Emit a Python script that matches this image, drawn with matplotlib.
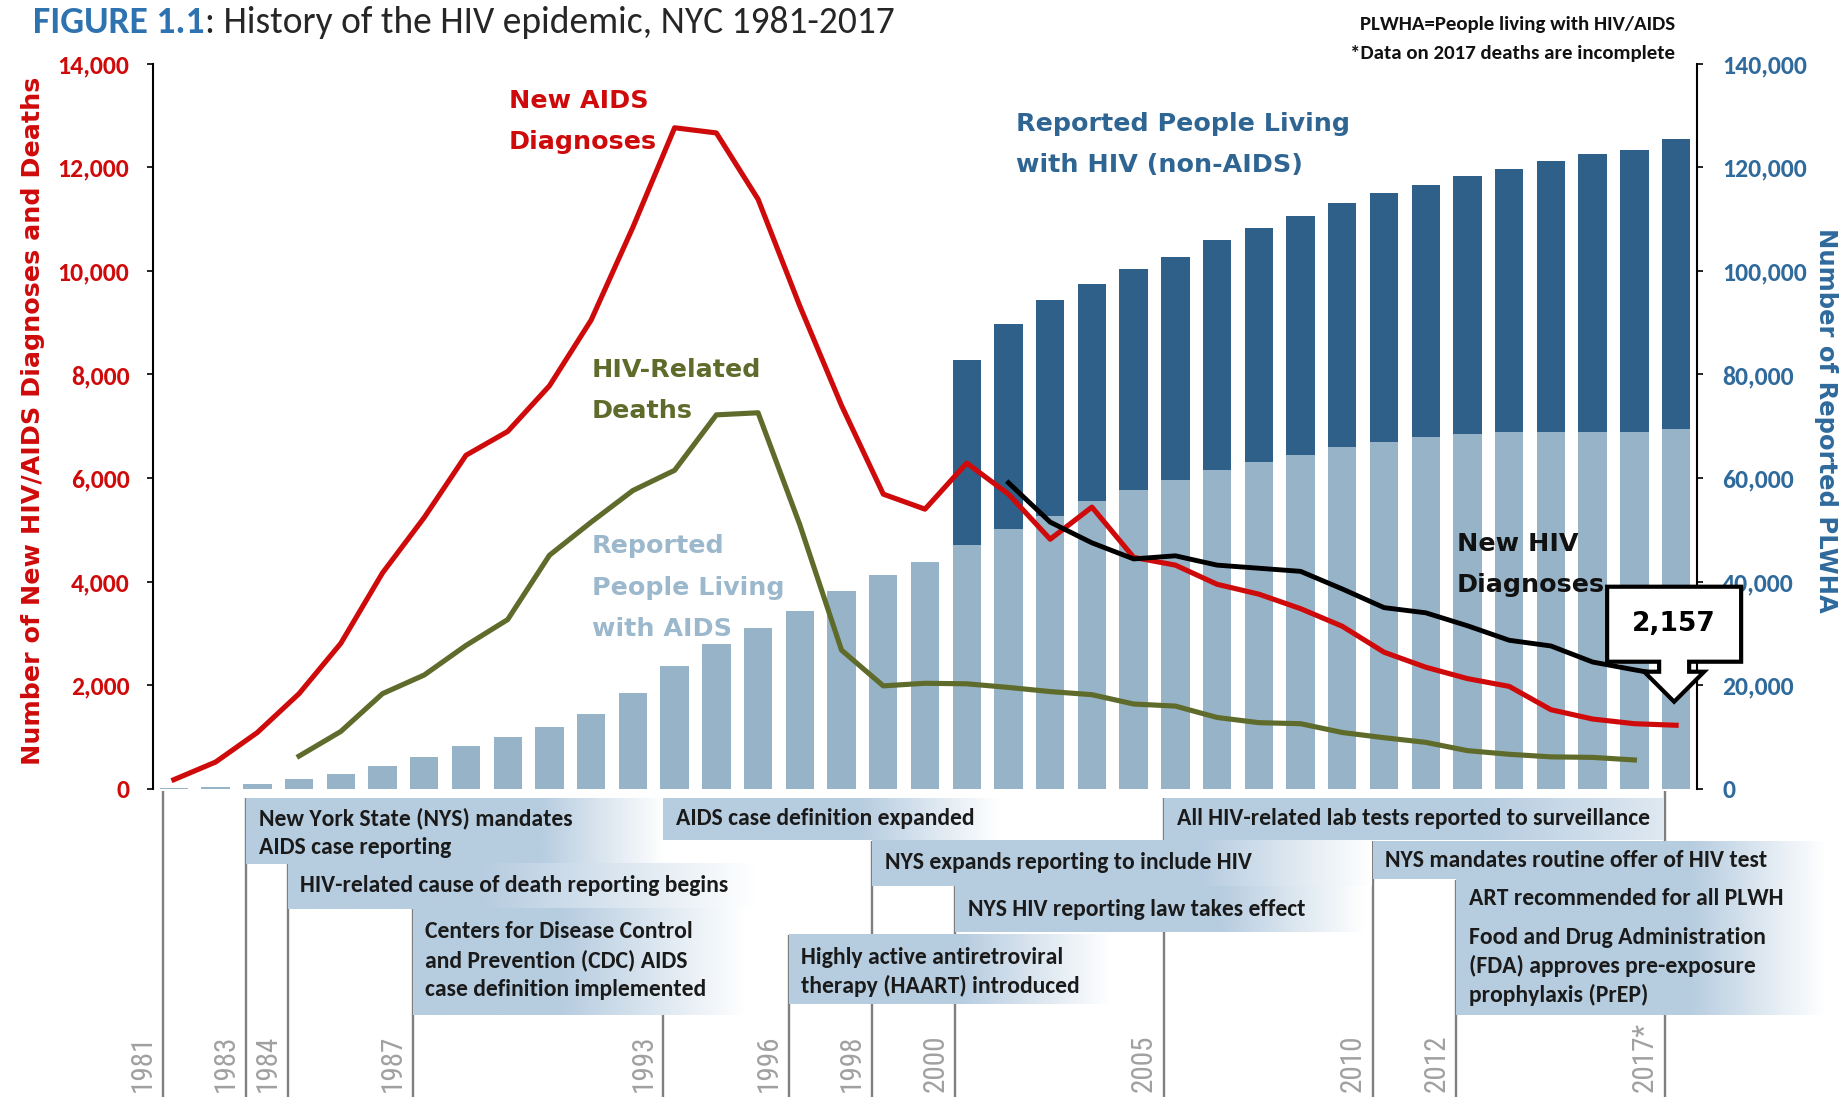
import numpy as np
import matplotlib
matplotlib.use("Agg")
import matplotlib.pyplot as plt
from matplotlib import font_manager, transforms as mtransforms
from matplotlib.patches import Polygon
from matplotlib.ticker import FuncFormatter, MultipleLocator

# ---------------- data ----------------
years = list(range(1981, 2018))
aids_dx = [180, 520, 1090, 1840, 2810, 4170, 5240, 6440, 6900, 7780, 9050, 10840, 12760,
           12660, 11380, 9320, 7400, 5690, 5400, 6290, 5690, 4820, 5440, 4470, 4320, 3950,
           3760, 3480, 3140, 2640, 2350, 2130, 1980, 1530, 1350, 1260, 1230]
death_years = list(range(1984, 2017))
deaths = [635, 1110, 1840, 2200, 2770, 3270, 4510, 5150, 5760, 6150, 7220, 7260, 5100, 2680,
          1990, 2040, 2030, 1960, 1880, 1820, 1640, 1600, 1380, 1280, 1260, 1090, 990, 900,
          740, 670, 620, 610, 560]
hiv_years = list(range(2001, 2018))
hiv_dx = [5910, 5150, 4750, 4440, 4500, 4320, 4260, 4200, 3860, 3500, 3400, 3150, 2870,
          2760, 2450, 2300, 2157]
plwa = [150, 480, 950, 1870, 2800, 4370, 6220, 8330, 10000, 12030, 14520, 18480, 23700,
        27900, 31100, 34300, 38200, 41300, 43900, 47100, 50100, 52600, 55600, 57700, 59700,
        61600, 63100, 64400, 66000, 67000, 67900, 68600, 68900, 68900, 68900, 68900, 69500]
plwh_years = list(range(2000, 2018))
plwh_nonaids = [35700, 39700, 41800, 41800, 42600, 43000, 44300, 45100, 46200, 47000, 48000,
                48600, 49700, 50800, 52200, 53600, 54500, 55900]

event_years = [1983, 1984, 1987, 1993, 1996, 1998, 2000, 2005, 2010, 2012, 2012]
event_texts = [
    "New York State (NYS) mandates\nAIDS case reporting",
    "HIV-related cause of death reporting begins",
    "Centers for Disease Control\nand Prevention (CDC) AIDS\ncase definition implemented",
    "AIDS case definition expanded",
    "Highly active antiretroviral\ntherapy (HAART) introduced",
    "NYS expands reporting to include HIV",
    "NYS HIV reporting law takes effect",
    "All HIV-related lab tests reported to surveillance",
    "NYS mandates routine offer of HIV test",
    "ART recommended for all PLWH",
    "Food and Drug Administration\n(FDA) approves pre-exposure\nprophylaxis (PrEP)",
]
axis_years = [1981, 1983, 1984, 1987, 1993, 1996, 1998, 2000, 2005, 2010, 2012, 2017]
axis_year_labels = ["1981", "1983", "1984", "1987", "1993", "1996", "1998", "2000", "2005",
                    "2010", "2012", "2017*"]

# ---------------- layout (pixels of the 1844x1097 canvas) ----------------
FW, FH = 1844, 1097
AX_L, AX_R, AX_T, AX_B = 153, 1697, 63.5, 789
XMIN, XMAX = 1980.5, 2017.5
PX_PER_YR = (AX_R - AX_L) / (XMAX - XMIN)


def px2yr(px):
    return XMIN + (px - AX_L) / PX_PER_YR


def fx(px):
    return px / FW


def fy(py):
    return 1 - py / FH


# timeline boxes: (top, bottom) in px below the chart, right edge px, fade start px, fade amount
box_rows = [(9, 75), (75, 120), (120, 226), (9, 51), (146, 215), (52, 97), (97, 143),
            (9, 51), (52, 90), (91, 126), (127, 226)]
text_first = [28, 95, 141, 28, 167, 72, 119, 28, 70, 108, 147]
LINE_GAP = 29
box_right = [665, 755, 745, 1000, 1110, 1372, 1365, 1664, 1825, 1825, 1825]
box_fade = [540, 480, 560, 860, 960, 1200, 1220, 1480, 1690, 1690, 1690]
box_mix = [1, 1, 1, 1, 1, 1, 1, 0.55, 1, 1, 1]
LINE_OFF = -0.27

# ---------------- fonts ----------------
avail = {f.name for f in font_manager.fontManager.ttflist}


def pick(*names):
    for n in names:
        if n in avail:
            return n
    return "DejaVu Sans"


CAL = pick("Carlito", "Lato", "Open Sans")
NARROW = pick("Liberation Sans Narrow", "Roboto Condensed", "Lato")
VER = "DejaVu Sans"

# ---------------- colors ----------------
RED = "#cf0a0a"
OLIVE = "#5e6b2b"
LIGHT = "#97b3c8"
DARK = "#2e6089"
BLUE_TXT = "#2f6a9c"
BOX = np.array([0.714, 0.800, 0.878])

fig = plt.figure(figsize=(FW / 100, FH / 100), dpi=100)

ax = fig.add_axes([fx(AX_L), fy(AX_B), (AX_R - AX_L) / FW, (AX_B - AX_T) / FH])
ax2 = ax.twinx()

# bars (right axis)
ax2.bar(years, plwa, width=0.68, color=LIGHT, zorder=2)
base = [plwa[years.index(y)] for y in plwh_years]
ax2.bar(plwh_years, plwh_nonaids, bottom=base, width=0.68, color=DARK, zorder=2)

# lines (left axis)
ax.plot(years, aids_dx, color=RED, lw=3.7, zorder=3)
ax.plot(death_years, deaths, color=OLIVE, lw=3.7, zorder=3)
ax.plot(hiv_years, hiv_dx, color="black", lw=3.5, zorder=3)

ax.set_zorder(ax2.get_zorder() + 1)
ax.patch.set_visible(False)

for a in (ax, ax2):
    a.set_xlim(XMIN, XMAX)
    a.set_xticks([])
    for s in ("top", "bottom"):
        a.spines[s].set_visible(False)
ax.spines["right"].set_visible(False)
ax2.spines["left"].set_visible(False)
ax.spines["left"].set_linewidth(1.5)
ax2.spines["right"].set_linewidth(1.5)

ax.set_ylim(0, 14000)
ax2.set_ylim(0, 140000)
ax.yaxis.set_major_locator(MultipleLocator(2000))
ax2.yaxis.set_major_locator(MultipleLocator(20000))
fmt = FuncFormatter(lambda v, p: f"{int(v):,}")
ax.yaxis.set_major_formatter(fmt)
ax2.yaxis.set_major_formatter(fmt)
ax.tick_params(axis="y", direction="out", length=4, width=1.2, pad=13, labelcolor=RED,
               labelsize=18.5)
ax2.tick_params(axis="y", direction="out", length=4, width=1.2, pad=14, labelcolor=BLUE_TXT,
                labelsize=18.5)
for lab in ax.get_yticklabels() + ax2.get_yticklabels():
    lab.set_fontfamily(CAL)
    lab.set_fontweight("bold")

# axis titles
fig.text(fx(33), fy(421), "Number of New HIV/AIDS Diagnoses and Deaths", rotation=90,
         ha="center", va="center", color=RED, fontsize=18.3, fontweight="bold", family=VER)
fig.text(fx(1826), fy(420), "Number of Reported PLWHA", rotation=270,
         ha="center", va="center", color=BLUE_TXT, fontsize=17.5, fontweight="bold",
         family=VER)

# title
t1 = fig.text(fx(33), fy(33), "FIGURE 1.1", color="#2e72b0", fontsize=27,
              fontweight="bold", family=CAL, ha="left", va="baseline")
fig.canvas.draw()
bb = t1.get_window_extent()
fig.text(bb.x1 / FW, fy(33), ": History of the HIV epidemic, NYC 1981-2017",
         color="#262626", fontsize=27, family=CAL, ha="left", va="baseline")

# notes
fig.text(fx(1675), fy(30), "PLWHA=People living with HIV/AIDS", ha="right",
         va="baseline", fontsize=15, fontweight="bold", family=CAL, color="#111111")
fig.text(fx(1675), fy(59), "*Data on 2017 deaths are incomplete", ha="right",
         va="baseline", fontsize=15, fontweight="bold", family=CAL, color="#111111")

# series labels
labels = [
    (["New AIDS", "Diagnoses"], 509, [99, 140], RED),
    (["HIV-Related", "Deaths"], 592, [368, 409], OLIVE),
    (["Reported", "People Living", "with AIDS"], 592, [544, 586, 627], "#9cb8cd"),
    (["Reported People Living", "with HIV (non-AIDS)"], 1016, [122, 163], "#2f6592"),
    (["New HIV", "Diagnoses"], 1457, [542, 583], "#111111"),
]
for lines, x, ys, col in labels:
    for ln, yy in zip(lines, ys):
        fig.text(fx(x), fy(yy + 9), ln, color=col, fontsize=18.3, fontweight="bold",
                 family=VER, ha="left", va="baseline", zorder=20)

# callout for latest HIV diagnoses
trans = fig.dpi_scale_trans + mtransforms.ScaledTranslation(hiv_years[-1], hiv_dx[-1],
                                                            ax.transData)
pts = np.array([(-67, 90.5), (67, 90.5), (67, 15.5), (15, 15.5), (15, 5.5), (30, 5.5),
                (0, -24.5), (-30, 5.5), (-15, 5.5), (-15, 15.5), (-67, 15.5)], dtype=float)
pts[:, 0] -= 2
ax.add_patch(Polygon(pts / 100.0, closed=True, transform=trans, facecolor="white",
                     edgecolor="black", lw=3, joinstyle="miter", clip_on=False, zorder=10))
ax.text(-0.02, 0.53, f"{hiv_dx[-1]:,}", transform=trans, ha="center", va="center",
        fontsize=19, fontweight="bold", family=VER, zorder=11, clip_on=False)

# ---------------- timeline ----------------
TH = FH - AX_B
ax_t = fig.add_axes([0, 0, 1, fy(AX_B)])
ax_t.set_axis_off()

# vertical lines
tops = {}
for yr, (tp, bt) in zip(event_years, box_rows):
    tops[yr] = min(tops.get(yr, 1e9), tp)
for yr in axis_years:
    xl = yr + LINE_OFF
    top = tops.get(yr, 2)
    ax_t.plot([xl, xl], [top, TH], color="#7f7f7f", lw=1.7, solid_capstyle="butt", zorder=1)

# boxes + texts
for i, (yr, txt) in enumerate(zip(event_years, event_texts)):
    tp, bt = box_rows[i]
    xl = yr + LINE_OFF
    xr = px2yr(box_right[i])
    xf = px2yr(box_fade[i])
    xs = np.linspace(xl, xr, 300)
    t = np.clip((xs - xf) / (xr - xf), 0, 1) * box_mix[i]
    rgb = BOX[None, :] * (1 - t[:, None]) + np.ones(3)[None, :] * t[:, None]
    ax_t.imshow(rgb[None, :, :], extent=(xl, xr, bt, tp), aspect="auto",
                interpolation="bilinear", zorder=2)
    for k, ln in enumerate(txt.split("\n")):
        ax_t.text(xl + 0.3, text_first[i] + k * LINE_GAP + 8, ln, fontsize=17,
                  fontweight="bold", family=CAL, color="#1a1a1a", ha="left",
                  va="baseline", zorder=3)

# year labels
ytr = mtransforms.offset_copy(ax_t.transData, fig=fig, x=-6, y=0, units="dots")
for yr, lab in zip(axis_years, axis_year_labels):
    ax_t.text(yr + LINE_OFF, TH - 5, lab, transform=ytr, rotation=90, ha="right",
              va="bottom", color="#a0a0a0", fontsize=21 if NARROW != "Lato" else 18,
              family=NARROW)

ax_t.set_xlim(px2yr(0), px2yr(FW))
ax_t.set_ylim(TH, 0)

fig.savefig("out.png", dpi=100)
